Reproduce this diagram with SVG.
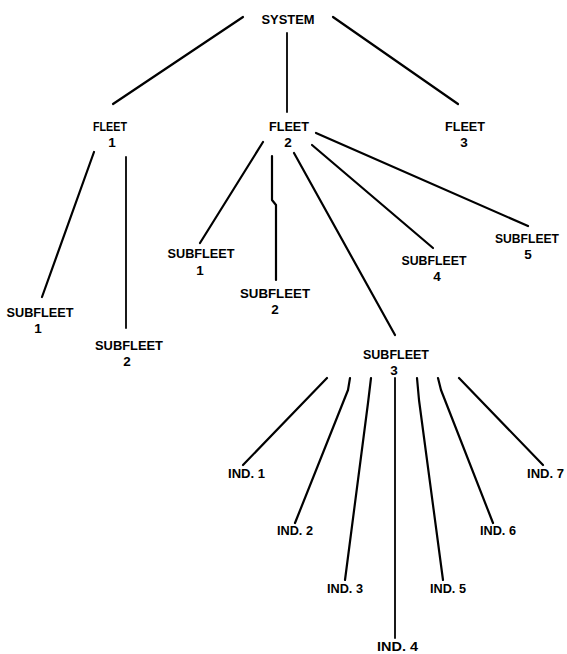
<svg xmlns="http://www.w3.org/2000/svg" width="567" height="654" viewBox="0 0 567 654">
<style>
text{font-family:"Liberation Sans",Arial,sans-serif;font-weight:bold;font-size:13.5px;fill:#000;text-anchor:middle}
.ln{fill:none;stroke:#000;stroke-width:2.2;stroke-linecap:round;stroke-linejoin:round}
.thin{stroke-width:1.8}
</style>
<rect width="567" height="654" fill="#fff"/>
<g id="connectors">
<line class="ln" x1="243" y1="17" x2="113" y2="104"/>
<line class="ln thin" x1="287" y1="33" x2="287" y2="112"/>
<line class="ln" x1="333" y1="17" x2="458" y2="104"/>
<line class="ln" x1="94" y1="152" x2="42" y2="297"/>
<line class="ln thin" x1="126" y1="157" x2="126" y2="328"/>
<line class="ln" x1="263" y1="142" x2="200" y2="243"/>
<polyline class="ln" points="272,156 272,200 276,205 276,280"/>
<line class="ln" x1="294" y1="153" x2="395" y2="335"/>
<line class="ln" x1="312" y1="145" x2="433" y2="248"/>
<line class="ln" x1="316" y1="133" x2="528" y2="226"/>
<line class="ln" x1="327" y1="378" x2="243" y2="465"/>
<polyline class="ln" points="350,378 348,390 295,523"/>
<polyline class="ln" points="371,378 368,403 345,580"/>
<line class="ln thin" x1="395" y1="378" x2="395" y2="638"/>
<polyline class="ln" points="417,378 419,400 443,580"/>
<polyline class="ln" points="438,378 441,390 493,523"/>
<line class="ln" x1="459" y1="378" x2="543" y2="465"/>
</g>
<g id="system"><text x="288" y="24" textLength="53" lengthAdjust="spacingAndGlyphs">SYSTEM</text></g>
<g id="fleet1"><text x="110" y="131" textLength="34" lengthAdjust="spacingAndGlyphs">FLEET</text><text x="112" y="147">1</text></g>
<g id="fleet2"><text x="289" y="131" textLength="40" lengthAdjust="spacingAndGlyphs">FLEET</text><text x="288" y="147">2</text></g>
<g id="fleet3"><text x="465" y="131" textLength="40" lengthAdjust="spacingAndGlyphs">FLEET</text><text x="464" y="147">3</text></g>
<g id="f1-subfleet1"><text x="40" y="317" textLength="67" lengthAdjust="spacingAndGlyphs">SUBFLEET</text><text x="38" y="333">1</text></g>
<g id="f1-subfleet2"><text x="129" y="350" textLength="68" lengthAdjust="spacingAndGlyphs">SUBFLEET</text><text x="127" y="366">2</text></g>
<g id="f2-subfleet1"><text x="201" y="258" textLength="67" lengthAdjust="spacingAndGlyphs">SUBFLEET</text><text x="200" y="275">1</text></g>
<g id="f2-subfleet2"><text x="275" y="298" textLength="70" lengthAdjust="spacingAndGlyphs">SUBFLEET</text><text x="275" y="314">2</text></g>
<g id="f2-subfleet3"><text x="396" y="359" textLength="66" lengthAdjust="spacingAndGlyphs">SUBFLEET</text><text x="394" y="375">3</text></g>
<g id="f2-subfleet4"><text x="434" y="265" textLength="65" lengthAdjust="spacingAndGlyphs">SUBFLEET</text><text x="437" y="281">4</text></g>
<g id="f2-subfleet5"><text x="527" y="243" textLength="64" lengthAdjust="spacingAndGlyphs">SUBFLEET</text><text x="528" y="259">5</text></g>
<g id="ind1"><text x="246.5" y="478" textLength="37" lengthAdjust="spacingAndGlyphs">IND. 1</text></g>
<g id="ind2"><text x="295" y="535" textLength="36" lengthAdjust="spacingAndGlyphs">IND. 2</text></g>
<g id="ind3"><text x="345" y="593" textLength="36" lengthAdjust="spacingAndGlyphs">IND. 3</text></g>
<g id="ind4"><text x="397.5" y="651" textLength="41" lengthAdjust="spacingAndGlyphs">IND. 4</text></g>
<g id="ind5"><text x="448" y="593" textLength="36" lengthAdjust="spacingAndGlyphs">IND. 5</text></g>
<g id="ind6"><text x="498" y="535" textLength="36" lengthAdjust="spacingAndGlyphs">IND. 6</text></g>
<g id="ind7"><text x="545.5" y="478" textLength="37" lengthAdjust="spacingAndGlyphs">IND. 7</text></g>
</svg>
